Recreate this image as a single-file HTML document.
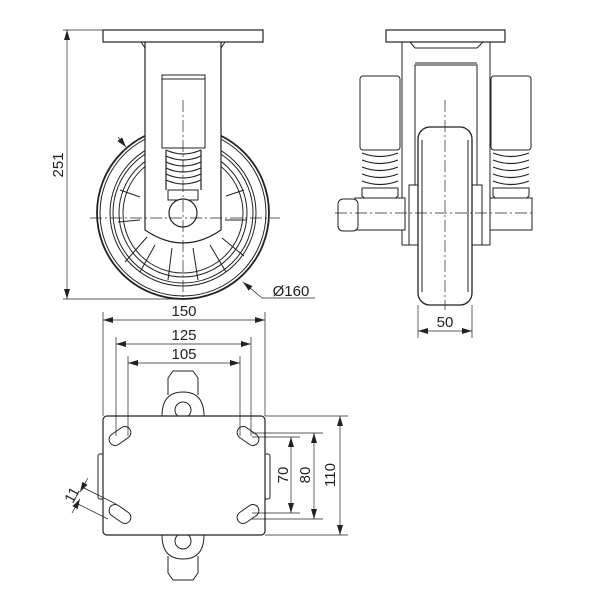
<!DOCTYPE html>
<html><head><meta charset="utf-8"><style>
html,body{margin:0;padding:0;background:#fff}
svg{display:block}
text{font-family:"Liberation Sans",sans-serif;font-size:15px;fill:#222}
</style></head><body>
<svg width="600" height="600" viewBox="0 0 600 600" xmlns="http://www.w3.org/2000/svg">
<defs>
<marker id="a" markerWidth="10" markerHeight="6" refX="10" refY="3" orient="auto-start-reverse" markerUnits="userSpaceOnUse"><path d="M0,0 L10,3 L0,6 z" fill="#222"/></marker>
</defs>
<g fill="none" stroke="#222" stroke-width="1">
<!-- LEFT VIEW -->
<circle cx="183" cy="213" r="86" stroke-width="1.8"/>
<circle cx="183" cy="213" r="83"/>
<circle cx="183" cy="213" r="73"/>
<circle cx="183" cy="213" r="70"/>
<circle cx="183" cy="213" r="64"/>
<circle cx="183" cy="213" r="60"/>
<path d="M120,190 L140,197 M118,222 L140,220 M125,262 L147,237 M140,272 L155,245 M168,280 L172,248 M198,280 L193,248 M226,272 L210,245 M244,256 L222,238 M246,220 L225,220 M244,190 L226,196"/>
<path d="M145,42 L145,230 Q183,256 221,230 L221,42" fill="#fff" stroke-width="1.2"/>
<path d="M141,42 L145,48 M225,42 L221,48"/>
<rect x="103" y="30" width="160" height="12" fill="#fff" stroke-width="1.2"/>
<rect x="162" y="75" width="43" height="73" fill="#fff"/>
<path d="M162,79 L205,79"/>
<g stroke-width="1.2">
<path d="M166,150 Q183,158 201,150 M166,156 Q183,164 201,156 M166,162 Q183,170 201,162 M166,168 Q183,176 201,168 M166,174 Q183,182 201,174 M166,180 Q183,188 201,180"/>
<path d="M166,150 L166,190 M201,150 L201,190"/>
</g>
<rect x="168" y="190" width="30" height="10"/>
<circle cx="183" cy="213" r="14" fill="#fff" stroke-width="1.2"/>
<path d="M183,100 L183,300 M90,218 L280,218" stroke-width="0.7" stroke-dasharray="12,3,2,3"/>
<path d="M67,30 L67,299" marker-start="url(#a)" marker-end="url(#a)" stroke-width="0.7"/>
<path d="M63,30 L103,30 M63,299 L183,299" stroke-width="0.7"/>
<path d="M118,137 L126,147" marker-end="url(#a)" stroke-width="0.7"/>
<path d="M262,298 L243,282" marker-end="url(#a)" stroke-width="0.7"/>
<path d="M262,298 L315,298" stroke-width="0.7"/>

<!-- RIGHT VIEW -->
<rect x="386" y="30" width="119" height="12" stroke-width="1.2"/>
<path d="M402,42 L402,245 L415,245 L415,65 L477,65 L477,245 L490,245 L490,42"/>
<path d="M415,48 L477,48 M415,48 L410,42 M477,48 L483,42 M415,63 L477,63"/>
<rect x="360" y="76" width="40" height="74" rx="3"/>
<rect x="491" y="76" width="40" height="74" rx="3"/>
<g stroke-width="1.2">
<path d="M362,153 Q380,160 398,153 M362,160 Q380,167 398,160 M362,167 Q380,174 398,167 M362,174 Q380,181 398,174 M362,181 Q380,188 398,181"/>
<path d="M493,153 Q511,160 529,153 M493,160 Q511,167 529,160 M493,167 Q511,174 529,167 M493,174 Q511,181 529,174 M493,181 Q511,188 529,181"/>
</g>
<path d="M362,188 L398,188 L398,196 L386,206 L374,206 L362,196 Z"/>
<path d="M493,188 L529,188 L529,196 L517,206 L505,206 L493,196 Z"/>
<rect x="355" y="198" width="50" height="32" fill="#fff"/>
<rect x="490" y="198" width="42" height="32" fill="#fff"/>
<rect x="338" y="199" width="20" height="32" rx="5" fill="#fff"/>
<rect x="409" y="185" width="10" height="60" fill="#fff"/>
<rect x="472" y="185" width="10" height="60" fill="#fff"/>
<rect x="418" y="127" width="54" height="178" rx="12" fill="#fff" stroke-width="1.3"/>
<path d="M422,140 L422,292 M468,140 L468,292"/>
<path d="M445,100 L445,310 M335,213 L535,213" stroke-width="0.7" stroke-dasharray="12,3,2,3"/>
<path d="M418,305 L418,338 M472,305 L472,338" stroke-width="0.7"/>
<path d="M418,331 L472,331" marker-start="url(#a)" marker-end="url(#a)" stroke-width="0.7"/>

<!-- BOTTOM VIEW -->
<path d="M162,416 Q162,392 183,392 Q204,392 204,416" fill="#fff"/>
<path d="M168,395 L168,378 L173,371 L193,371 L198,378 L198,395"/>
<circle cx="183" cy="410" r="8"/>
<path d="M162,535 Q162,559 183,559 Q204,559 204,535" fill="#fff"/>
<path d="M168,556 L168,573 L173,580 L193,580 L198,573 L198,556"/>
<circle cx="183" cy="541" r="8"/>
<rect x="98" y="454" width="8" height="45" rx="2"/>
<rect x="262" y="454" width="8" height="45" rx="2"/>
<rect x="103" y="416" width="162" height="119" rx="4" fill="#fff" stroke-width="1.2"/>
<g transform="translate(120,436) rotate(-35)"><rect x="-12" y="-6" width="24" height="12" rx="6"/></g>
<g transform="translate(248,436) rotate(35)"><rect x="-12" y="-6" width="24" height="12" rx="6"/></g>
<g transform="translate(120,514) rotate(35)"><rect x="-12" y="-6" width="24" height="12" rx="6"/></g>
<g transform="translate(248,514) rotate(-35)"><rect x="-12" y="-6" width="24" height="12" rx="6"/></g>
<g stroke-width="0.7">
<path d="M103,416 L103,312 M265,416 L265,312"/>
<path d="M103,320 L265,320" marker-start="url(#a)" marker-end="url(#a)"/>
<path d="M116,436 L116,337 M251,436 L251,337"/>
<path d="M116,344 L251,344" marker-start="url(#a)" marker-end="url(#a)"/>
<path d="M128,436 L128,356 M240,436 L240,356"/>
<path d="M128,363 L240,363" marker-start="url(#a)" marker-end="url(#a)"/>
<path d="M265,416 L348,416 M265,535 L348,535"/>
<path d="M340,416 L340,535" marker-start="url(#a)" marker-end="url(#a)"/>
<path d="M252,433 L323,433 M252,519 L323,519"/>
<path d="M314,433 L314,519" marker-start="url(#a)" marker-end="url(#a)"/>
<path d="M252,437 L300,437 M252,513 L300,513"/>
<path d="M291,437 L291,513" marker-start="url(#a)" marker-end="url(#a)"/>
<path d="M84,488 L116,504 M76,503 L108,519"/>
<path d="M88,478 L80,492" marker-end="url(#a)"/>
<path d="M72,513 L80,499" marker-end="url(#a)"/>
</g>
</g>
<text x="58" y="165" text-anchor="middle" transform="rotate(-90 58 165)" dy="5">251</text>
<text x="291" y="296" text-anchor="middle">Ø160</text>
<text x="445" y="327" text-anchor="middle">50</text>
<text x="184" y="316" text-anchor="middle">150</text>
<text x="184" y="340" text-anchor="middle">125</text>
<text x="184" y="359" text-anchor="middle">105</text>
<text x="283" y="475" text-anchor="middle" transform="rotate(-90 283 475)" dy="5">70</text>
<text x="305" y="475" text-anchor="middle" transform="rotate(-90 305 475)" dy="5">80</text>
<text x="330" y="475" text-anchor="middle" transform="rotate(-90 330 475)" dy="5">110</text>
<text x="72" y="495" text-anchor="middle" transform="rotate(-62 72 495)" dy="5">11</text>
</svg>
</body></html>
